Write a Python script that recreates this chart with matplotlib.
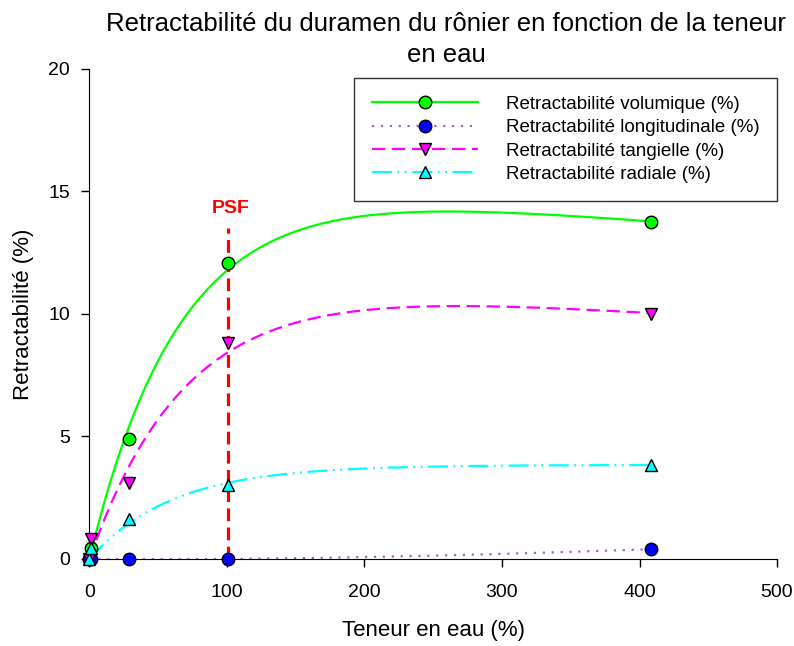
import numpy as np
import matplotlib
matplotlib.use("Agg")
import matplotlib.pyplot as plt

plt.rcParams['font.family'] = ['Liberation Sans', 'DejaVu Sans']

# water content (%) and shrinkage values (%)
teneur = [0, 1, 29, 101, 408]
vol = [0, 0.45, 4.9, 12.1, 13.75]
longi = [0, 0.0, 0.0, 0.0, 0.4]
tang = [0, 0.8, 3.1, 8.8, 10.0]
rad = [0, 0.45, 1.65, 3.0, 3.85]
labels = ["Retractabilité volumique (%)", "Retractabilité longitudinale (%)",
          "Retractabilité tangielle (%)", "Retractabilité radiale (%)"]
psf = 101


def fit_curve(x, y, k):
    # least squares: a*(1-exp(-x/k)) + b*x
    x = np.asarray(x, float)
    A = np.column_stack([1 - np.exp(-x / k), x])
    coef, *_ = np.linalg.lstsq(A, np.asarray(y, float), rcond=None)
    xs = np.linspace(0, max(x), 300)
    B = np.column_stack([1 - np.exp(-xs / k), xs])
    return xs, B @ coef


fig = plt.figure(figsize=(7.94, 6.46), dpi=100)
ax = fig.add_axes([0.1127, 0.1347, 0.8659, 0.7585])

styles = [
    dict(color='#00ff00', ls='-', marker='o', mfc='#00ff00', k=66),
    dict(color='#a860d0', ls=(0, (1, 3)), marker='o', mfc='#0000ff', k=400),
    dict(color='#ff00ff', ls=(0, (6, 3)), marker='v', mfc='#ff00ff', k=70),
    dict(color='#00ffff', ls=(0, (9, 2.5, 0.8, 2.5, 0.8, 2.5)), marker='^', mfc='#00ffff', k=60),
]
series = [vol, longi, tang, rad]

handles = []
for y, st, lab in zip(series, styles, labels):
    xs, ys = fit_curve(teneur, y, st['k'])
    ax.plot(xs, ys, color=st['color'], ls=st['ls'], lw=1.6, zorder=2)
    ax.plot(teneur, y, ls='none', marker=st['marker'], ms=9, mfc=st['mfc'],
            mec='black', mew=1, zorder=4, clip_on=False)
    h, = ax.plot([], [], color=st['color'], ls=st['ls'], lw=1.6, marker=st['marker'],
                 ms=9, mfc=st['mfc'], mec='black', mew=1)
    handles.append(h)

ax.plot([psf, psf], [0, 13.5], color='#ff0000', ls=(0, (4, 2)), lw=2.3, zorder=3)
ax.text(psf + 1.5, 14.3, "PSF", color='#ff0000', fontsize=14, fontweight='bold',
        ha='center', va='center')

ax.set_xlim(0, 500)
ax.set_ylim(0, 20)
ax.set_xticks([0, 100, 200, 300, 400, 500])
ax.set_yticks([0, 5, 10, 15, 20])
ax.spines['top'].set_visible(False)
ax.spines['right'].set_visible(False)
ax.tick_params(labelsize=14, length=6, width=1, direction='out')
ax.tick_params(axis='x', pad=12)
ax.tick_params(axis='y', pad=8)
ax.set_xlabel("Teneur en eau (%)", fontsize=16, labelpad=14)
ax.set_ylabel("Retractabilité (%)", fontsize=16, labelpad=10)

leg = ax.legend(handles, labels, loc='upper right', bbox_to_anchor=(1.0, 0.9816),
                borderaxespad=0, fontsize=13.5, frameon=True, fancybox=False,
                edgecolor='black', handlelength=5.7, handletextpad=1.45,
                borderpad=0.95, labelspacing=0.33)
leg.get_frame().set_linewidth(1)

fig.text(0.562, 0.982, "Retractabilité du duramen du rônier en fonction de la teneur\nen eau",
         fontsize=18.5, ha='center', va='top', linespacing=1.4)

fig.savefig("out.png", dpi=100)
